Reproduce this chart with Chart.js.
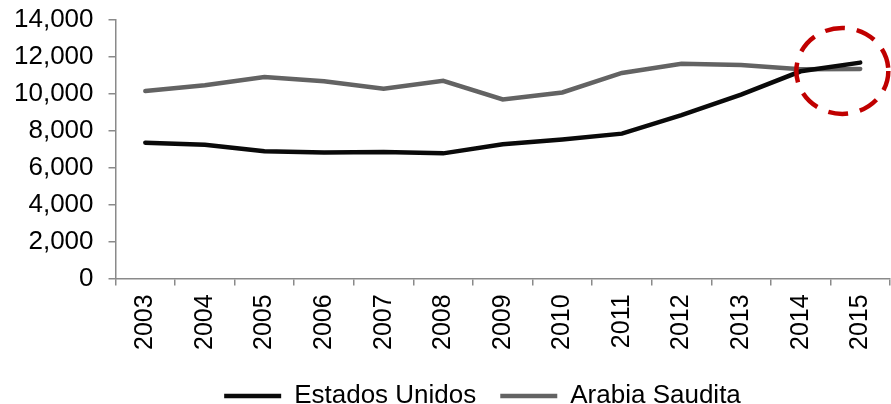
<!DOCTYPE html>
<html>
<head>
<meta charset="utf-8">
<script src="https://cdn.jsdelivr.net/npm/chart.js@4.4.1/dist/chart.umd.min.js"></script>
<style>
    html, body { margin: 0; padding: 0; background: #fff; }
    #wrap { width: 891px; height: 404px; position: relative; }
</style>
</head>
<body>
<div id="wrap"><canvas id="chartProduccion"></canvas></div>
<script>
const anios = ["2003", "2004", "2005", "2006", "2007", "2008", "2009", "2010", "2011", "2012", "2013", "2014", "2015"];
const estadosUnidos = [7360, 7250, 6890, 6820, 6850, 6780, 7270, 7530, 7850, 8850, 9970, 11230, 11700];
const arabiaSaudita = [10160, 10470, 10920, 10690, 10290, 10710, 9700, 10080, 11140, 11640, 11570, 11340, 11360];
const ejeY = [0, 2000, 4000, 6000, 8000, 10000, 12000, 14000];

const fuente = "'Liberation Sans', Arial, sans-serif";
const gris = "#8a8a8a";

// Circulo rojo punteado sobre el cruce de 2014-2015
const circuloCruce = {
    id: "circuloCruce",
    afterDatasetsDraw(chart) {
        const { ctx, scales } = chart;
        const cx = scales.x.getPixelForValue(11.7);
        const cy = scales.y.getPixelForValue(11250);
        ctx.save();
        ctx.beginPath();
        ctx.ellipse(cx, cy, 46, 43, 0, 0, Math.PI * 2);
        ctx.strokeStyle = "#c00000";
        ctx.lineWidth = 4.5;
        ctx.setLineDash([20, 12]);
        ctx.stroke();
        ctx.restore();
    },
};

// Mover la leyenda un poco a la derecha, como en el original
const moverLeyenda = {
    id: "moverLeyenda",
    afterLayout(chart) {
        if (chart.legend) {
            chart.legend.left += 38;
            chart.legend.right += 38;
        }
    },
};

new Chart(document.getElementById("chartProduccion"), {
    type: "line",
    data: {
        labels: anios,
        datasets: [
            {
                label: "Estados Unidos",
                data: estadosUnidos,
                borderColor: "#0a0a0a",
                backgroundColor: "#0a0a0a",
                borderWidth: 4.5,
                borderCapStyle: "round",
                pointRadius: 0,
                tension: 0,
            },
            {
                label: "Arabia Saudita",
                data: arabiaSaudita,
                borderColor: "#636363",
                backgroundColor: "#636363",
                borderWidth: 4.5,
                borderCapStyle: "round",
                pointRadius: 0,
                tension: 0,
            },
        ],
    },
    options: {
        responsive: true,
        maintainAspectRatio: false,
        animation: false,
        layout: { padding: { top: 0, right: 1, left: -1, bottom: -15 } },
        plugins: {
            legend: {
                position: "bottom",
                labels: {
                    usePointStyle: true,
                    pointStyle: "line",
                    pointStyleWidth: 57,
                    color: "#000",
                    padding: 24,
                    font: { family: fuente, size: 26 },
                },
            },
            tooltip: { enabled: false },
        },
        scales: {
            x: {
                offset: true,
                grid: {
                    offset: true,
                    drawOnChartArea: false,
                    drawTicks: true,
                    tickLength: 7,
                    color: gris,
                    lineWidth: 1.5,
                },
                border: { color: gris, width: 1.5 },
                ticks: {
                    autoSkip: false,
                    minRotation: 90,
                    maxRotation: 90,
                    color: "#000",
                    padding: 9,
                    font: { family: fuente, size: 25, lineHeight: 0.8 },
                },
            },
            y: {
                min: ejeY[0],
                max: ejeY[ejeY.length - 1],
                afterBuildTicks: (axis) => {
                    axis.ticks = ejeY.map((v) => ({ value: v }));
                },
                grid: {
                    drawOnChartArea: false,
                    drawTicks: true,
                    tickLength: 7,
                    color: gris,
                    lineWidth: 1.5,
                },
                border: { color: gris, width: 1.5 },
                ticks: {
                    color: "#000",
                    padding: 15,
                    font: { family: fuente, size: 26, lineHeight: 0.4 },
                    callback: (val) => val.toLocaleString("en-US"),
                },
            },
        },
    },
    plugins: [circuloCruce, moverLeyenda],
});
</script>
</body>
</html>
